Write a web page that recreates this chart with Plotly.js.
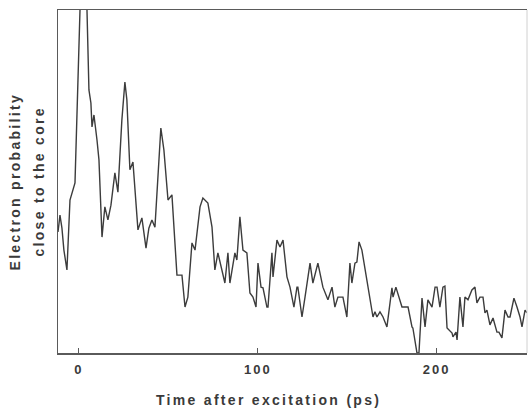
<!DOCTYPE html>
<html>
<head>
<meta charset="utf-8">
<script src="https://cdn.plot.ly/plotly-3.0.1.min.js"></script>
<style>
  html, body { margin: 0; padding: 0; background: #fff; }
  #chart { width: 528px; height: 410px; }
  .xtick text { letter-spacing: 2px; }
  .annotation-text { letter-spacing: 2.3px; }
</style>
</head>
<body>
<div id="chart"></div>
<script>
// Time after excitation (ps)
const timePs = [
  -11.7, -10.6, -9.5, -8.4, -6.7, -5.0, -2.2, -1.1, 0.6, 2.2,
  4.5, 5.6, 6.7, 7.3, 8.4, 10.1, 11.2, 12.9, 14.5, 16.2,
  17.9, 20.1, 21.8, 24.0, 25.7, 26.8, 28.5, 30.2, 33.0, 35.2,
  37.5, 39.1, 40.8, 42.5, 44.2, 45.8, 47.5, 49.8, 52.0, 54.8,
  57.6, 59.3, 60.9, 63.2, 64.9, 67.7, 69.3, 72.1, 74.4, 76.0,
  77.7, 81.6, 83.3, 84.4, 87.2, 88.3, 90.0, 91.7, 93.9, 95.6,
  97.3, 99.0, 100.1, 101.8, 102.9, 105.1, 105.7, 107.9, 108.5, 110.7,
  112.4, 114.1, 116.3, 118.0, 120.2, 121.9, 122.4, 124.7, 126.4, 129.2,
  130.8, 133.6, 136.4, 139.2, 141.5, 143.1, 144.8, 147.6, 149.8, 151.5,
  152.6, 154.3, 155.4, 156.6, 158.2, 163.8, 164.4, 165.5, 166.6, 168.3,
  170.0, 172.2, 175.0, 175.6, 177.2, 180.6, 184.0, 186.2, 186.7, 189.0,
  190.1, 191.8, 193.5, 195.1, 197.4, 199.1, 200.2, 201.8, 203.5, 204.6,
  205.8, 208.6, 209.1, 210.8, 211.4, 213.0, 214.7, 215.8, 217.5, 219.7,
  221.4, 222.5, 224.2, 225.9, 227.0, 228.1, 229.8, 231.5, 233.7, 234.8,
  236.5, 238.2, 239.9, 241.0, 243.2, 244.9, 246.6, 247.7, 249.4, 250.5
];
// Electron probability close to the core (arbitrary units)
const probability = [
  35.3, 40.2, 36.4, 30.0, 24.2, 44.6, 49.6, 71.7, 100.0, 114.6,
  100.0, 76.7, 72.9, 65.9, 69.4, 62.1, 56.3, 33.8, 42.6, 38.8,
  43.1, 52.5, 46.9, 67.9, 79.0, 73.8, 53.4, 55.7, 35.9, 39.4,
  30.6, 36.4, 38.8, 36.7, 51.9, 65.6, 59.2, 44.6, 46.1, 22.7,
  22.7, 13.4, 16.3, 32.1, 30.0, 42.6, 45.2, 43.7, 36.7, 24.2,
  29.2, 20.4, 29.2, 20.4, 29.2, 27.1, 39.7, 30.0, 29.2, 17.5,
  16.3, 13.4, 26.2, 19.2, 19.0, 13.4, 13.4, 29.2, 22.2, 32.9,
  30.9, 32.9, 22.2, 19.2, 13.4, 19.2, 19.2, 10.5, 16.3, 26.2,
  20.4, 26.2, 19.2, 15.5, 19.2, 13.4, 16.3, 16.3, 10.5, 26.2,
  20.4, 26.2, 26.5, 32.4, 30.0, 12.0, 10.5, 12.0, 10.5, 12.0,
  10.5, 7.6, 19.0, 16.3, 19.2, 13.4, 13.4, 7.6, 7.3, 0.0,
  0.0, 16.0, 7.6, 15.5, 13.4, 19.2, 19.2, 13.4, 19.2, 19.5,
  7.3, 5.8, 4.7, 6.1, 3.8, 16.3, 7.6, 16.3, 15.5, 18.4,
  19.2, 14.6, 16.3, 16.3, 11.7, 12.5, 8.2, 10.2, 6.1, 6.1,
  4.4, 12.5, 10.5, 10.5, 16.0, 13.4, 10.5, 7.6, 12.5, 11.7
];
const xTickVals = [0, 100, 200];
const xTickText = ["0", "100", "200"];
const xTitle = "Time after excitation (ps)";
const yTitleLines = ["Electron probability", "close to the core"];

const textColor = "#3a3a3a";
const fontFam = "Liberation Sans, Arial, sans-serif";

const trace = {
  x: timePs,
  y: probability,
  type: "scatter",
  mode: "lines",
  line: { color: "#3c3c3c", width: 1.4 },
  hoverinfo: "skip",
  showlegend: false
};

const layout = {
  width: 528,
  height: 410,
  margin: { l: 58, r: 1, t: 10, b: 57, pad: 0 },
  paper_bgcolor: "#ffffff",
  plot_bgcolor: "#ffffff",
  xaxis: {
    range: [-11.7, 250.5],
    showgrid: false,
    zeroline: false,
    showline: true,
    mirror: true,
    linecolor: "#5a5a5a",
    linewidth: 1.5,
    ticks: "inside",
    ticklen: 5,
    tickwidth: 1,
    tickcolor: "#5a5a5a",
    tickvals: xTickVals,
    ticktext: xTickText,
    tickfont: { family: fontFam, size: 13, color: textColor, weight: "bold" },
    ticklabelstandoff: 4
  },
  yaxis: {
    range: [0, 100],
    showgrid: false,
    zeroline: false,
    showline: true,
    linecolor: "#5a5a5a",
    linewidth: 1.5,
    showticklabels: false,
    ticks: ""
  },
  shapes: [{
    type: "line", xref: "paper", yref: "paper",
    x0: 1, x1: 1, y0: 0, y1: 1,
    line: { color: "#d0d0d0", width: 1 }
  }],
  annotations: [
    {
      text: xTitle, xref: "paper", yref: "paper",
      x: 0.448, y: -0.137, xanchor: "center", yanchor: "middle",
      showarrow: false,
      font: { family: fontFam, size: 14, color: textColor, weight: "bold" }
    },
    {
      text: yTitleLines[0], xref: "paper", yref: "paper",
      x: -0.0917, y: 0.5, xanchor: "center", yanchor: "middle",
      textangle: -90, showarrow: false,
      font: { family: fontFam, size: 14, color: textColor, weight: "bold" }
    },
    {
      text: yTitleLines[1], xref: "paper", yref: "paper",
      x: -0.0426, y: 0.5, xanchor: "center", yanchor: "middle",
      textangle: -90, showarrow: false,
      font: { family: fontFam, size: 14, color: textColor, weight: "bold" }
    }
  ]
};

Plotly.newPlot("chart", [trace], layout, { staticPlot: true, displayModeBar: false });
</script>
</body>
</html>
